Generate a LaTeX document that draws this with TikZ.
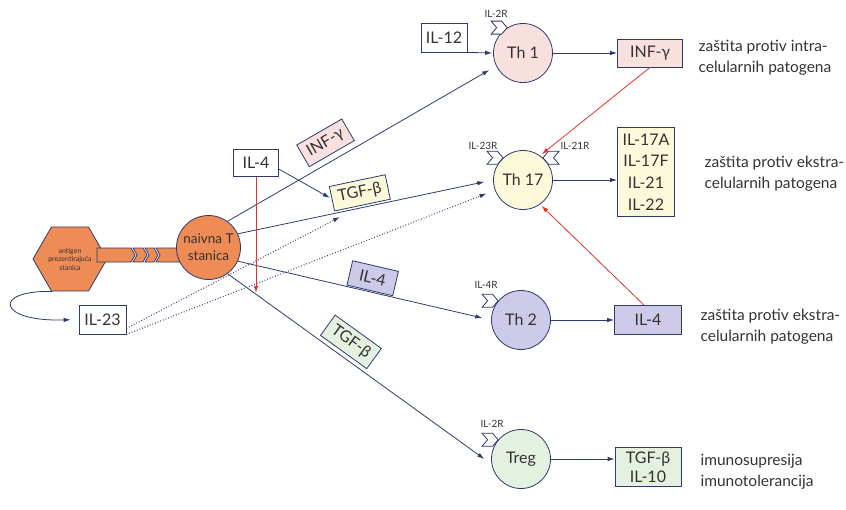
\documentclass[tikz,border=0pt]{standalone}
\usepackage{fontspec}
\setmainfont{Lato}
\usetikzlibrary{shapes.geometric,arrows.meta,positioning}

\definecolor{navy}{HTML}{2E3A6C}
\definecolor{redline}{HTML}{E2332A}
\definecolor{apcorange}{HTML}{EF8B55}
\definecolor{th1pink}{HTML}{F8E0DE}
\definecolor{th17yellow}{HTML}{FCF9DA}
\definecolor{th2purple}{HTML}{CCC9E9}
\definecolor{treggreen}{HTML}{E4F1E0}

\begin{document}
\begin{tikzpicture}[x=1pt,y=-1pt,
    navyline/.style={draw=navy,line width=0.8pt},
    arr/.style={navyline,-{Latex[length=7pt,width=4.5pt]}},
    redarr/.style={draw=redline,line width=0.8pt,-{Latex[length=7pt,width=4.5pt]}},
    dotarr/.style={arr,dotted,line width=1.1pt},
    cell/.style={circle,navyline,minimum size=59pt,inner sep=0pt,text=black!80,font=\fontsize{16}{19}\selectfont},
    cyto/.style={rectangle,navyline,minimum height=28pt,inner sep=0pt,text=black!80,font=\fontsize{16}{19}\selectfont},
    lab/.style={cyto,sloped,minimum height=25pt,inner xsep=5pt},
    rlab/.style={font=\fontsize{10}{11}\selectfont,text=black!80,inner sep=0pt},
    role/.style={anchor=west,align=left,text=black!80,font=\fontsize{15.5}{21}\selectfont},
    recep/.pic={\draw[navyline,fill=white] (-16,-6.5) -- (-5.5,-6.5) -- (0,0) -- (-5.5,6.5) -- (-16,6.5) -- (-10.5,0) -- cycle;}
  ]
    \useasboundingbox (0,0) rectangle (846,509);

    % antigen presenting cell
    \node[regular polygon,regular polygon sides=6,minimum size=74pt,inner sep=0pt,fill=apcorange,navyline,
          align=center,text=black!80,font=\fontsize{7}{8.5}\selectfont] (apc) at (70,259) {antigen\\prezentirajuća\\stanica};

    % contact between the two cells
    \draw[navyline,fill=apcorange] (97,248) -- (131,248) -- (135,255) -- (131,262) -- (97,262) -- cycle;
    \draw[navyline,fill=apcorange] (133,248) -- (143,248) -- (147,255) -- (143,262) -- (133,262) -- (137,255) -- cycle;
    \draw[navyline,fill=apcorange] (145,248) -- (154,248) -- (158,255) -- (154,262) -- (145,262) -- (149,255) -- cycle;
    \draw[navyline,fill=apcorange] (156,248) -- (182,248) -- (182,262) -- (156,262) -- (160,255) -- cycle;

    % naive T cell
    \node[cell,fill=apcorange,minimum size=64pt,align=center,font=\fontsize{13.5}{17}\selectfont] (naive) at (208.5,247.5) {naivna T\\stanica};

    % effector cells
    \node[cell,fill=th1pink] (th1) at (523,53) {Th 1};
    \node[cell,fill=th17yellow] (th17) at (523,180) {Th 17};
    \node[cell,fill=th2purple] (th2) at (521,320) {Th 2};
    \node[cell,fill=treggreen] (treg) at (521,459) {Treg};

    % receptors
    \pic at (th1.122) {recep};
    \pic at (th17.132) {recep};
    \pic[xscale=-1] at (th17.48) {recep};
    \pic at (th2.140) {recep};
    \pic at (treg.140) {recep};
    \node[rlab] (th1rec) at ([xshift=-11pt,yshift=14pt]th1.122) {IL-2R};
    \node[rlab] (th17rec) at ([xshift=-20pt,yshift=12pt]th17.132) {IL-23R};
    \node[rlab] (th17rec2) at ([xshift=32pt,yshift=12pt]th17.48) {IL-21R};
    \node[rlab] (th2rec) at ([xshift=-12pt,yshift=16pt]th2.140) {IL-4R};
    \node[rlab] (tregrec) at ([xshift=-6pt,yshift=16pt]treg.140) {IL-2R};

    % cytokines
    \node[cyto,minimum width=46pt,minimum height=29pt] (il12) at (444,37.5) {IL-12};
    \node[cyto,minimum width=45pt,minimum height=27pt] (il4) at (256,163) {IL-4};
    \node[cyto,minimum width=47pt,minimum height=29pt] (il23) at (102.5,319.5) {IL-23};
    \node[cyto,fill=th1pink,minimum width=65pt] (infg) at (650,53) {INF-γ};
    \node[cyto,fill=th17yellow,minimum width=57pt,minimum height=89pt,align=center,font=\fontsize{16}{21.7}\selectfont] (il17) at (646,172) {IL-17A\\IL-17F\\IL-21\\IL-22};
    \node[cyto,fill=th2purple,minimum width=67pt,minimum height=29pt] (il4b) at (648,320) {IL-4};
    \node[cyto,fill=treggreen,minimum width=66pt,minimum height=39pt,align=center,font=\fontsize{16}{19}\selectfont] (tgfb2) at (648,467) {TGF-β\\IL-10};

    % roles
    \node[role] (role1) at (695,57.5) {zaštita protiv intra-\\celularnih patogena};
    \node[role] (role2) at (701,173.5) {zaštita protiv ekstra-\\celularnih patogena};
    \node[role] (role3) at (697,327) {zaštita protiv ekstra-\\celularnih patogena};
    \node[role] (role4) at (697,472) {imunosupresija\\imunotolerancija};

    % differentiation
    \draw[arr,shorten >=8pt] (naive.54) -- node[lab,fill=th1pink,minimum width=52pt,pos=0.40,above=6pt] (infgl) {INF-γ} (th1.206);
    \draw[arr,shorten >=9pt] (naive.25) -- node[lab,fill=th17yellow,minimum width=57pt,pos=0.49,above=2pt] (tgfbl) {TGF-β} (th17.west);
    \draw[arr,shorten >=9pt] (naive.335) -- node[lab,fill=th2purple,minimum width=47pt,pos=0.52,above=1pt] (il4l) {IL-4} (th2.west);
    \draw[arr,shorten >=9pt] (naive.306) -- node[lab,fill=treggreen,minimum width=57pt,pos=0.43,above=4pt] (tgfbl2) {TGF-β} (treg.190);
    \draw[arr,shorten >=2pt] (il4.-15) -- (tgfbl.west);
    \draw[arr,shorten >=1pt] (il12.south east) -- (th1.west);

    % IL-23 loop
    \draw[arr,shorten >=8pt] ([xshift=-18pt]apc.south) .. controls (-8,290) and (-3,322) .. (il23.west);
    \coordinate (dotend) at (340,217);
    \draw[dotarr] ([yshift=6pt]il23.south east) -- (dotend);
    \draw[dotarr,shorten >=9pt] (il23.south east) -- (th17.200);

    % products
    \draw[arr] (th1) -- (infg);
    \draw[arr] (th17.east) -- (th17.east -| il17.west);
    \draw[arr] (th2) -- (il4b);
    \draw[arr] (treg.east) -- (treg.east -| tgfb2.west);

    % cross regulation
    \coordinate (il4tip) at ([yshift=-116pt]il4.south);
    \draw[redarr] (il4.south) -- (il4tip);
    \draw[redarr,shorten >=2pt] (infg.south) -- (th17.55);
    \draw[redarr,shorten >=2pt] (il4b.105) -- (th17.305);

\end{tikzpicture}
\end{document}
